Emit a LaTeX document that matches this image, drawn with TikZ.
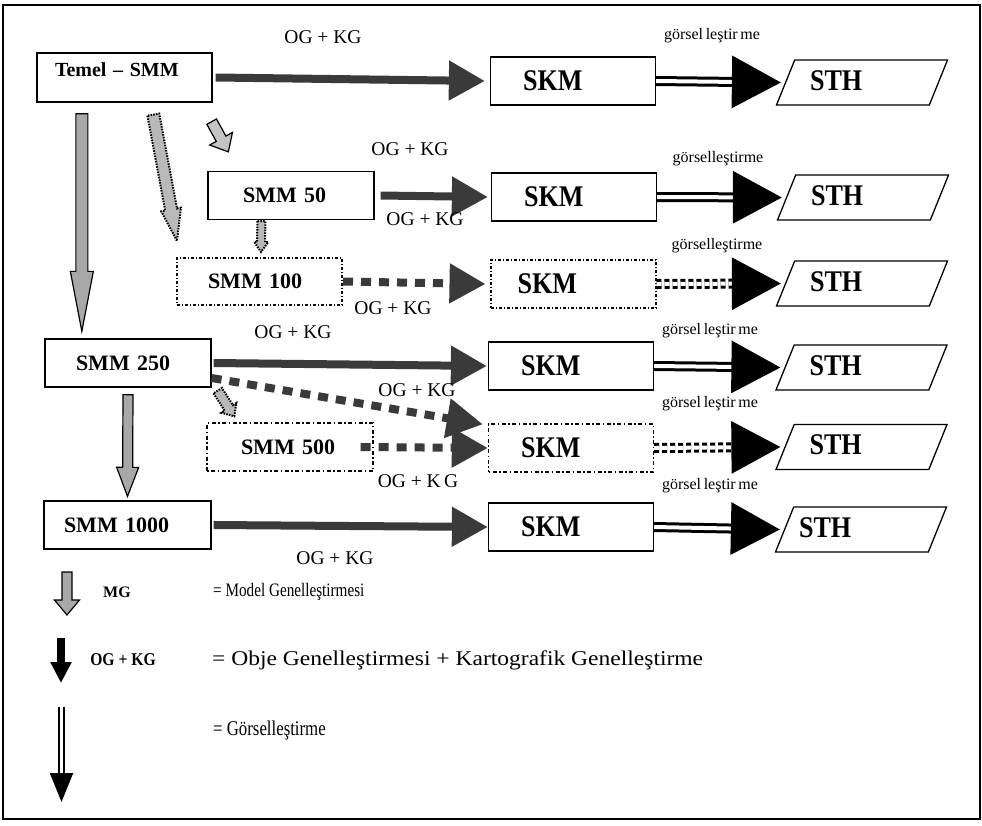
\documentclass[tikz,border=0pt]{standalone}
\usepackage{fontspec}
\setmainfont{Liberation Serif}
\newfontfamily\narrowserif{Liberation Serif}[FakeStretch=0.87]
\newfontfamily\tightserif{Liberation Serif}[FakeStretch=0.8]
\newfontfamily\wideserif{Liberation Serif}[FakeStretch=1.12]
\usetikzlibrary{arrows.meta,calc,shapes.geometric}

\definecolor{ogkgcol}{HTML}{3A3A3A}
\definecolor{mgcol}{HTML}{A8A8A8}
\definecolor{mglight}{HTML}{C4C4C4}

\tikzset{
  model/.style={draw, line width=1.3pt, rectangle, minimum width=166pt, minimum height=48pt,
    align=left, font=\fontsize{22}{26}\selectfont\bfseries},
  dotline/.style={line width=2pt, dash pattern=on 3pt off 2pt on 1pt off 2pt},
  thinline/.style={line width=1.4pt, dash pattern=on 1.5pt off 2.5pt on 4pt off 2.5pt},
  skm/.style={model, minimum width=165pt, text width=100pt, font=\narrowserif\fontsize{30}{33}\selectfont\bfseries},
  sth/.style={draw, line width=1.3pt, trapezium, trapezium left angle=68, trapezium right angle=112,
    trapezium stretches body=true, minimum width=171pt, minimum height=45pt, inner sep=0pt,
    text height=30pt, text depth=15pt,
    align=left, text width=104pt, font=\narrowserif\fontsize{30}{33}\selectfont\bfseries},
  ogkg/.style={draw=ogkgcol, line width=8pt, -{Triangle[length=36pt,width=38pt]}},
  ogkgdash/.style={ogkg, dash pattern=on 10pt off 8pt},
  vis/.style={draw=black, line width=3pt, double=white, double distance=4pt,
    -{Triangle[length=49pt,width=52pt]}},
  visdot/.style={vis, dash pattern=on 5pt off 3pt},
  blk/.style n args={3}{to path={let \p1=(\tikztostart), \p2=(\tikztotarget),
    \n1={atan2(\y2-\y1,\x2-\x1)}, \n2={veclen(\x2-\x1,\y2-\y1)} in
    ([shift={(\p1)},rotate=\n1]0pt,-#1pt) -- ([shift={(\p1)},rotate=\n1]\n2-#3pt,-#1pt)
    -- ([shift={(\p1)},rotate=\n1]\n2-#3pt,-#2pt) -- ([shift={(\p1)},rotate=\n1]\n2,0pt)
    -- ([shift={(\p1)},rotate=\n1]\n2-#3pt,#2pt) -- ([shift={(\p1)},rotate=\n1]\n2-#3pt,#1pt)
    -- ([shift={(\p1)},rotate=\n1]0pt,#1pt) -- cycle}},
  mg/.style={draw=black, line width=1.2pt, fill=mgcol},
  mgdot/.style={mg, fill=mgcol!80, line width=2pt, dash pattern=on 1.5pt off 1.2pt},
  lbl/.style={font=\fontsize{19.5}{22}\selectfont},
  vislbl/.style={font=\fontsize{16}{19}\selectfont},
  legtext/.style={anchor=west, inner sep=0pt, font=\tightserif\fontsize{19}{22}\selectfont},
}

\begin{document}
\begin{tikzpicture}[x=1pt,y=-1pt]
\useasboundingbox (0,0) rectangle (982,825);
\draw[line width=2pt] (3,5) rectangle (980,819);

% models
\node[model, minimum width=175pt, minimum height=49pt, text width=139pt,
  font=\fontsize{20}{24}\selectfont\bfseries, text height=14pt, text depth=16pt] (temel) at (124.5,77.5) {Temel -- SMM};
\node[model, text width=96pt] (smmA) at (291,195.5) {SMM 50};
\node[model, dotline, minimum width=165pt, minimum height=47pt, text width=103pt] (smmB) at (259.5,281.5) {SMM 100};
\node[model, text width=104pt] (smmC) at (128,363) {SMM 250};
\node[model, thinline, text width=98pt] (smmD) at (290,447) {SMM 500};
\node[model, minimum width=167pt, text width=127pt] (smmE) at (127.5,525) {SMM 1000};

% SKM
\node[skm] (skm1) at (573,81) {SKM};
\node[skm] (skm2) at (574,197) {SKM};
\node[skm, dotline, text width=111pt] (skm3) at (573,284) {SKM};
\node[skm] (skm4) at (571,366) {SKM};
\node[skm, thinline] (skm5) at (571,448) {SKM};
\node[skm] (skm6) at (571,527) {SKM};

% STH
\node[sth] (sth1) at (862,82.5) {STH};
\node[sth] (sth2) at (863,197.5) {STH};
\node[sth] (sth3) at (862,283.5) {STH};
\node[sth] (sth4) at (861.5,367.5) {STH};
\node[sth] (sth5) at (861.5,447) {STH};
\node[sth, text width=124pt] (sth6) at (861,529.5) {STH};

% OG + KG
\draw[ogkg] ([xshift=3pt]temel.east) -- ([xshift=-5pt]skm1.west);
\draw[ogkg] ([xshift=6pt]smmA.east) -- ([xshift=-3pt]skm2.west);
\draw[ogkgdash] (smmB.east) -- ([xshift=-4pt]skm3.west);
\draw[ogkg] ([xshift=2pt]smmC.east) -- ([xshift=-1pt]skm4.west);
\draw[ogkgdash] ([yshift=-15pt]smmC.east) -- ([xshift=-5pt,yshift=-1pt]skm5.north west);
\draw[ogkgdash] ([xshift=-13pt]smmD.east) -- (skm5.west);
\draw[ogkg] ([xshift=2pt]smmE.east) -- (skm6.west);

% visualisation
\draw[vis] (skm1.east) -- ([xshift=-4pt]sth1.west);
\draw[vis] (skm2.east) -- ([xshift=-4pt]sth2.west);
\draw[visdot] (skm3.east) -- ([xshift=-4pt]sth3.west);
\draw[vis] (skm4.east) -- ([xshift=-4pt]sth4.west);
\draw[visdot] (skm5.east) -- ([xshift=-4pt]sth5.west);
\draw[vis] (skm6.east) -- ([xshift=-4pt]sth6.west);

% MG
\draw[mg, blk={6}{11.5}{60}] ([xshift=45.5pt,yshift=-11pt]temel.south west) to ([xshift=37.5pt,yshift=7pt]smmC.north west);
\draw[mg, blk={5}{11}{29}] ([yshift=-7pt]smmC.south) to ([yshift=4pt]smmE.north);
\draw[mg, fill=mglight, blk={5.5}{13}{15}] ([xshift=-1pt,yshift=-19pt]temel.south east) to ([xshift=21pt,yshift=19pt]smmA.north west);
\draw[mgdot, blk={6}{10}{32}] ([xshift=117pt,yshift=-12pt]temel.south west) to ([xshift=1pt,yshift=16pt]smmB.north west);
\draw[mgdot, blk={4}{7}{10}] ([xshift=54pt,yshift=-1pt]smmA.south west) to ([xshift=85pt,yshift=5pt]smmB.north west);
\draw[mgdot, blk={5}{9}{10}] ([xshift=6pt,yshift=-3pt]smmC.south east) to ([xshift=28pt,yshift=6pt]smmD.north west);

% labels
\node[lbl] (og1) at (323,37) {OG + KG};
\node[lbl] (og2a) at (410,149) {OG + KG};
\node[lbl] (og2b) at (425,219) {OG + KG};
\node[lbl] (og3) at (393,308) {OG + KG};
\node[lbl] (og4) at (293,332) {OG + KG};
\node[lbl] (og5a) at (417,390) {OG + KG};
\node[lbl] (og5b) at (418,481) {OG + K\,G};
\node[lbl] (og6) at (335,558) {OG + KG};
\node[vislbl] (vis1) at (712,36) {görsel\,leştir\,me};
\node[vislbl] (vis2) at (718,159) {görselleştirme};
\node[vislbl] (vis3) at (717,246) {görselleştirme};
\node[vislbl] (vis4) at (710,331) {görsel\,leştir\,me};
\node[vislbl] (vis5) at (710,404) {görsel\,leştir\,me};
\node[vislbl] (vis6) at (710,486) {görsel\,leştir\,me};

% legend
\coordinate (mgtop) at (67,572);
\coordinate (mgend) at (67,615);
\draw[mg, blk={5}{12.5}{15}] (mgtop) to (mgend);
\coordinate (ogtop) at (61,638);
\coordinate (ogend) at (61,683);
\draw[ogkg, draw=black, -{Triangle[length=21pt,width=20pt]}] (ogtop) -- (ogend);
\coordinate (vistop) at (61.5,707);
\coordinate (visend) at (61.5,802);
\draw[vis, line width=2pt, double distance=3pt, -{Triangle[length=29pt,width=23pt]}] (vistop) -- (visend);
\node[font=\fontsize{16}{19}\selectfont\bfseries] (legmg) at (117,592) {MG};
\node[legtext] (legmgtxt) at (213,592) {= Model Genelleştirmesi};
\node[font=\narrowserif\fontsize{18}{21}\selectfont\bfseries] (legog) at (123,660) {OG + KG};
\node[legtext, font=\wideserif\fontsize{21}{25}\selectfont] (legogtxt) at (212,660) {= Obje Genelleştirmesi + Kartografik Genelleştirme};
\node[legtext, font=\tightserif\fontsize{21}{24}\selectfont] (legvistxt) at (213,730) {= Görselleştirme};
\end{tikzpicture}
\end{document}
